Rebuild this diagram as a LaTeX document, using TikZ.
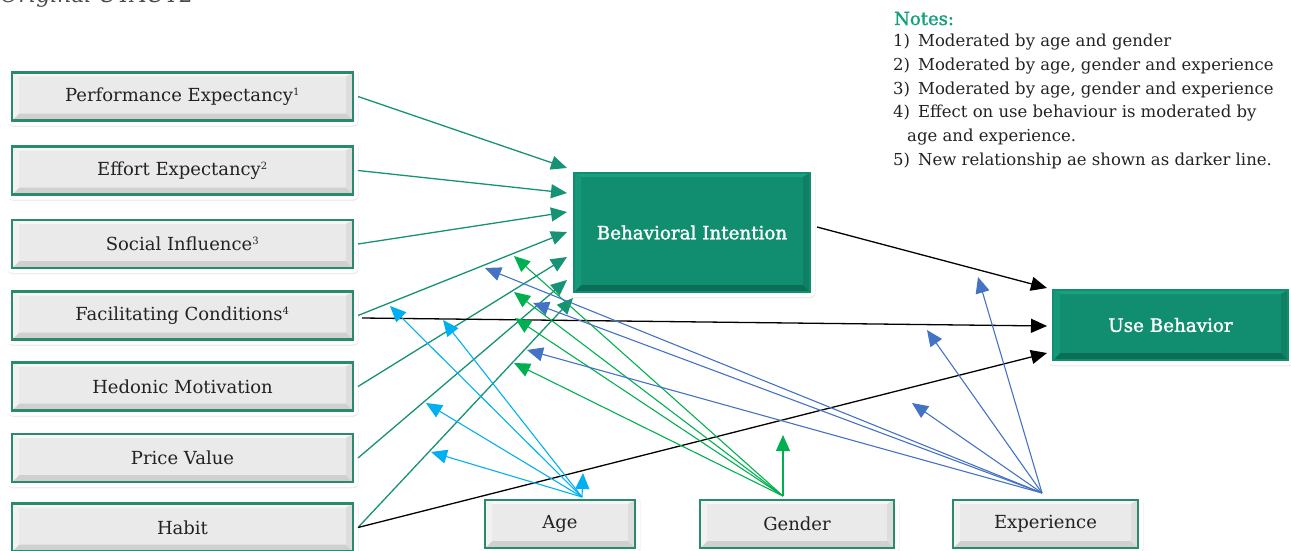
\documentclass[tikz,border=0pt]{standalone}
\usepackage{fontspec}
\setmainfont{DejaVu Serif}
\newfontfamily\boldish[FakeBold=1.6]{DejaVu Serif}
\usetikzlibrary{arrows.meta,shadows,calc}

\definecolor{tealA}{HTML}{169274}
\definecolor{cyanA}{HTML}{00B0F0}
\definecolor{greenA}{HTML}{00B050}
\definecolor{blueA}{HTML}{4472C4}
\definecolor{boxborder}{HTML}{2A8A6E}
\definecolor{textgray}{HTML}{222222}
\definecolor{notegreen}{HTML}{14A07C}
\definecolor{gC}{HTML}{EAEAEA}
\definecolor{gT}{HTML}{F7F7F7}
\definecolor{gB}{HTML}{D0D0D0}
\definecolor{gL}{HTML}{F2F2F2}
\definecolor{gR}{HTML}{DDDDDD}
\definecolor{tC}{HTML}{118E6F}
\definecolor{tT}{HTML}{18A07F}
\definecolor{tB}{HTML}{0B6F56}
\definecolor{tL}{HTML}{15997A}
\definecolor{tR}{HTML}{0F8064}

\newcommand\bevelfill[6]{%
  \begin{scope}[sharp corners]
  \coordinate (ppnw) at ([shift={(5pt,-5pt)}]path picture bounding box.north west);
  \coordinate (ppse) at ([shift={(-5pt,5pt)}]path picture bounding box.south east);
  \coordinate (ppne) at (ppnw -| ppse);
  \coordinate (ppsw) at (ppnw |- ppse);
  \coordinate (qqnw) at ([shift={(7pt,-4pt)}]ppnw);
  \coordinate (qqse) at ([shift={(-7pt,7pt)}]ppse);
  \coordinate (qqne) at (qqnw -| qqse);
  \coordinate (qqsw) at (qqnw |- qqse);
  \fill[#1] (ppnw) rectangle (ppse);
  \fill[#2] (ppnw) -- (ppne) -- (qqne) -- (qqnw) -- cycle;
  \fill[#3] (ppsw) -- (ppse) -- (qqse) -- (qqsw) -- cycle;
  \fill[#4] (ppnw) -- (qqnw) -- (qqsw) -- (ppsw) -- cycle;
  \fill[#5] (ppne) -- (qqne) -- (qqse) -- (ppse) -- cycle;
  \draw[#6, line width=2.4pt] (ppnw) rectangle (ppse);
  \end{scope}}

\begin{document}
\begin{tikzpicture}[x=1pt,y=-1pt,
  frame/.style={fill=white, rounded corners=5pt, inner sep=0pt, outer sep=0pt,
    drop shadow={opacity=0.15, shadow xshift=0.6pt, shadow yshift=-1.4pt}},
  greybox/.style={frame, text=textgray, font=\fontsize{18}{21}\selectfont,
    path picture={\bevelfill{gC}{gT}{gB}{gL}{gR}{boxborder}}},
  tealbox/.style={frame, text=white, font=\boldish\fontsize{18.3}{21}\selectfont,
    path picture={\bevelfill{tC}{tT}{tB}{tL}{tR}{tC}}},
  leftbox/.style={greybox, minimum width=351pt, minimum height=58pt},
  link/.style={line width=1.3pt, -{Triangle[length=16pt,width=14pt]}},
  noteline/.style={anchor=base west, inner sep=0pt, text=textgray, font=\fontsize{16.5}{19}\selectfont},
]
\useasboundingbox (0,0) rectangle (1291,551);

% title (cut off at top)
\node[anchor=base east, font=\itshape\fontsize{22}{24}\selectfont, text=black!70, inner sep=0pt] (title) at (194,3) {Original UTAUT2};

% notes
\node[anchor=base west, inner sep=0pt, text=notegreen, font=\boldish\fontsize{18}{20}\selectfont] (notes) at (894,25) {Notes:};
\node[noteline] (n1)  at (893,47)    {1)\, Moderated by age and gender};
\node[noteline] (n2)  at (893,70.6)  {2)\, Moderated by age, gender and experience};
\node[noteline] (n3)  at (893,94.2)  {3)\, Moderated by age, gender and experience};
\node[noteline] (n4)  at (893,117.8) {4)\, Effect on use behaviour is moderated by};
\node[noteline] (n4b) at (907,141.4) {age and experience.};
\node[noteline] (n5)  at (893,165)   {5)\, New relationship ae shown as darker line.};

% left constructs
\node[leftbox] (pe)  at (182.5,96.5)  {Performance Expectancy\textsuperscript{\fontsize{10}{10}\selectfont 1}};
\node[leftbox] (ee)  at (182.5,170.5) {Effort Expectancy\textsuperscript{\fontsize{10}{10}\selectfont 2}};
\node[leftbox] (si)  at (182.5,244)   {Social Influence\textsuperscript{\fontsize{10}{10}\selectfont 3}};
\node[leftbox] (fc)  at (182.5,315.5) {Facilitating Conditions\textsuperscript{\fontsize{10}{10}\selectfont 4}};
\node[leftbox] (hm)  at (182.5,386.5) {Hedonic Motivation};
\node[leftbox] (pv)  at (182.5,458)   {Price Value};
\node[leftbox] (hab) at (182.5,527.5) {Habit};

% main constructs
\node[tealbox, minimum width=246pt, minimum height=129pt] (bi) at (692,232.5) {Behavioral Intention};
\node[tealbox, minimum width=245pt, minimum height=80pt] (ub) at (1170.5,325) {Use Behavior};

% moderators
\node[greybox, minimum width=160pt, minimum height=58pt] (age) at (560,524) {Age};
\node[greybox, minimum width=204pt, minimum height=58pt] (gen) at (797,524) {Gender};
\node[greybox, minimum width=195pt, minimum height=58pt] (exp) at (1045.5,524) {Experience};

% moderator origins
\coordinate (ageo) at ($(age.north)+(22,2)$);
\coordinate (geno) at ($(gen.north)+(-14,1)$);
\coordinate (expo) at ($(exp.north)+(-3.5,-2)$);

% teal arrows into BI
\draw[link, tealA] (pe.east)  -- ($(bi.west)+(-2,-64.5)$);
\draw[link, tealA] (ee.east)  -- ($(bi.west)+(-2,-39.5)$);
\draw[link, tealA] (si.east)  -- ($(bi.west)+(-2,-20.5)$);
\draw[link, tealA] (fc.east)  -- ($(bi.west)+(-2,-0.5)$);
\draw[link, tealA] (hm.east)  -- ($(bi.west)+(-2,24.5)$);
\draw[link, tealA] (pv.east)  -- ($(bi.west)+(-2,47.5)$);
\draw[link, tealA] (hab.east) -- ($(bi.south west)+(4,1)$);

% black arrows into UB
\draw[link, black] ($(bi.east)+(2,-5.5)$) -- ($(ub.west)+(-1,-37)$);
\draw[link, black] ($(fc.east)+(4,2.5)$) -- ($(ub.west)+(-1,1)$);
\draw[link, black] (hab.east) -- ($(ub.west)+(-1,28)$);

% age (cyan)
\coordinate (a1) at (390,306);
\coordinate (a2) at (443,320);
\coordinate (a3) at (426,403);
\coordinate (a4) at (431,452);
\coordinate (a5) at (583,473);
\foreach \t in {a1,a2,a3,a4,a5} \draw[link, cyanA, line width=1.1pt] (ageo) -- (\t);

% gender (green)
\coordinate (g1) at (514,256);
\coordinate (g2) at (514,292);
\coordinate (g3) at (515,318);
\coordinate (g4) at (514,363);
\coordinate (g5) at (783,435);
\foreach \t in {g1,g2,g3,g4,g5} \draw[link, greenA, line width=1.1pt] (geno) -- (\t);

% experience (blue)
\coordinate (x1) at (485,268);
\coordinate (x2) at (533,303);
\coordinate (x3) at (527,350);
\coordinate (x4) at (978,277);
\coordinate (x5) at (927,330);
\coordinate (x6) at (912,403);
\foreach \t in {x1,x2,x3,x4,x5,x6} \draw[link, blueA, line width=1.1pt] (expo) -- (\t);
\end{tikzpicture}
\end{document}
